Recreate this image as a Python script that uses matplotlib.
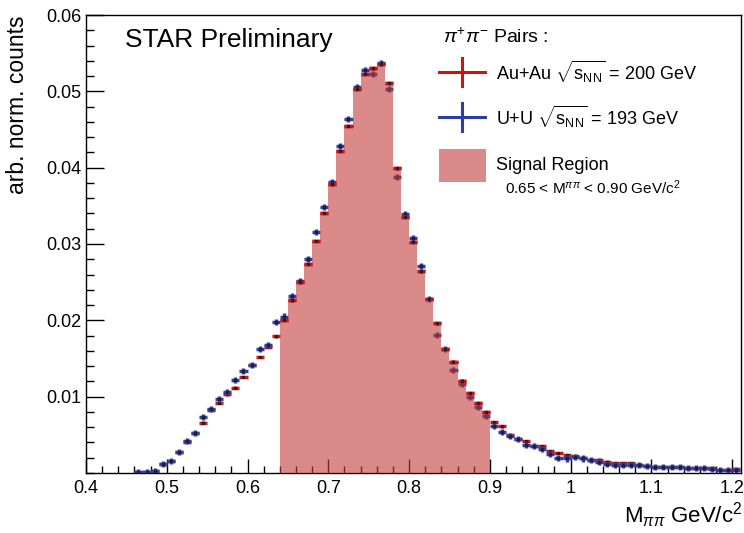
import numpy as np
import matplotlib
matplotlib.use("Agg")
import matplotlib.pyplot as plt
from matplotlib.ticker import MultipleLocator, FixedLocator, FuncFormatter
from matplotlib.lines import Line2D
from matplotlib.patches import Rectangle

plt.rcParams['font.family'] = ['Liberation Sans', 'DejaVu Sans']
plt.rcParams['mathtext.fontset'] = 'custom'
plt.rcParams['mathtext.rm'] = 'Liberation Sans'
plt.rcParams['mathtext.it'] = 'Liberation Sans:italic'
plt.rcParams['mathtext.sf'] = 'Liberation Sans'

# bin edges 0.46 .. 1.21, width 0.01
edges = np.round(np.arange(0.46, 1.2151, 0.01), 3)
centers = (edges[:-1] + edges[1:]) / 2

auau = [0.0001, 0.0001, 0.0002, 0.0012, 0.0016, 0.0027, 0.0041, 0.0052, 0.0066, 0.0083,
        0.0092, 0.0103, 0.0112, 0.0126, 0.0141, 0.0152, 0.0165, 0.0179, 0.0200, 0.0226,
        0.0250, 0.0274, 0.0304, 0.0341, 0.0378, 0.0422, 0.0455, 0.0503, 0.0523, 0.0530,
        0.0536, 0.0511, 0.0399, 0.0336, 0.0303, 0.0264, 0.0228, 0.0196, 0.0162, 0.0146,
        0.0121, 0.0105, 0.0092, 0.0080, 0.0067, 0.0061, 0.0050, 0.0044, 0.0042, 0.0035,
        0.0035, 0.0029, 0.0026, 0.0023, 0.0022, 0.0019, 0.0017, 0.0017, 0.0015, 0.0013,
        0.0013, 0.0013, 0.0011, 0.0009, 0.0008, 0.0008, 0.0008, 0.0008, 0.0006, 0.0006,
        0.0006, 0.0006, 0.0004, 0.0004, 0.0005]
uu = [0.0001, 0.0001, 0.0002, 0.0012, 0.0016, 0.0027, 0.0042, 0.0052, 0.0073, 0.0084,
      0.0097, 0.0106, 0.0122, 0.0134, 0.0141, 0.0163, 0.0168, 0.0198, 0.0205, 0.0232,
      0.0252, 0.0280, 0.0316, 0.0348, 0.0381, 0.0428, 0.0464, 0.0506, 0.0528, 0.0523,
      0.0537, 0.0503, 0.0388, 0.0339, 0.0308, 0.0271, 0.0228, 0.0181, 0.0162, 0.0135,
      0.0117, 0.0100, 0.0087, 0.0075, 0.0061, 0.0054, 0.0049, 0.0044, 0.0037, 0.0035,
      0.0032, 0.0025, 0.0020, 0.0019, 0.0021, 0.0019, 0.0017, 0.0015, 0.0012, 0.0011,
      0.0011, 0.0011, 0.0011, 0.0009, 0.0008, 0.0008, 0.0008, 0.0008, 0.0006, 0.0006,
      0.0006, 0.0005, 0.0004, 0.0004, 0.0004]
auau = np.array(auau); uu = np.array(uu)
SIG_LO, SIG_HI = 0.64, 0.90

RED = '#cc1414'; BLUE = '#2e3da6'
FILL = '#c43c3c'; FILL_LEG = '#db8a8a'

W, H = 744, 533
fig = plt.figure(figsize=(W / 100, H / 100), dpi=100)
ax = fig.add_axes([86 / W, 60 / H, 655 / W, 458 / H])

ekw = dict(fmt='s', ms=1.3, mfc='#202020', mec='#202020', elinewidth=2.5, capsize=0)
ax.errorbar(centers, auau, xerr=0.005, yerr=0.00015, ecolor=RED, zorder=2, **ekw)
ax.errorbar(centers, uu, xerr=0.005, yerr=0.0004, ecolor=BLUE, zorder=3, **ekw)

sig = (centers > SIG_LO) & (centers < SIG_HI)
sig_edges = edges[(edges >= SIG_LO - 1e-9) & (edges <= SIG_HI + 1e-9)]
ax.stairs(auau[sig], sig_edges, fill=True, color=FILL, alpha=0.6, lw=0, zorder=4)
ax.errorbar(centers[sig], auau[sig], xerr=0.005, yerr=0.00015, ecolor=RED, zorder=5, **ekw)

ax.set_xlim(0.4, 1.211)
ax.set_ylim(0, 0.06)
ax.xaxis.set_major_locator(FixedLocator([0.4, 0.5, 0.6, 0.7, 0.8, 0.9, 1.0, 1.1, 1.2]))
ax.xaxis.set_minor_locator(MultipleLocator(0.02))
ax.xaxis.set_major_formatter(FuncFormatter(lambda v, p: f"{v:g}"))
ax.yaxis.set_major_locator(FixedLocator([0.01, 0.02, 0.03, 0.04, 0.05, 0.06]))
ax.yaxis.set_minor_locator(MultipleLocator(0.002))
ax.yaxis.set_major_formatter(FuncFormatter(lambda v, p: f"{v:.2f}"))
ax.tick_params(axis='both', which='both', direction='in', top=False, right=False,
               labelsize=13, width=1)
ax.tick_params(axis='x', which='major', length=10, pad=5)
ax.tick_params(axis='x', which='minor', length=5)
ax.tick_params(axis='y', which='major', length=13, pad=3)
ax.tick_params(axis='y', which='minor', length=6)
for s in ax.spines.values():
    s.set_linewidth(1)

def fx(x): return x / W
def fy(y): return 1 - y / H

fig.text(fx(742), fy(515), r'M$_{\pi\pi}$ GeV/c$^{2}$', ha='right', va='center', fontsize=16)
fig.text(fx(18), fy(15), 'arb. norm. counts', rotation=90, ha='center', va='top', fontsize=16.5)
fig.text(fx(125), fy(47), 'STAR Preliminary', ha='left', va='baseline', fontsize=19)

# legend
fig.text(fx(443), fy(37), r'$\pi^{+}\pi^{-}$ Pairs :', ha='left', va='center', fontsize=14)
for yy, col, lab in [(72, RED, r'Au+Au $\sqrt{\mathrm{s}_{\rm NN}}$ = 200 GeV'),
                     (117, BLUE, r'U+U $\sqrt{\mathrm{s}_{\rm NN}}$ = 193 GeV')]:
    fig.add_artist(Line2D([fx(439), fx(485)], [fy(yy), fy(yy)], color=col, lw=2.2))
    fig.add_artist(Line2D([fx(462), fx(462)], [fy(yy - 14), fy(yy + 14)], color=col, lw=2.2))
    fig.text(fx(496), fy(yy), lab, ha='left', va='center', fontsize=13)
fig.add_artist(Rectangle((fx(439), fy(182)), fx(47), 33 / H, color=FILL_LEG, lw=0))
fig.text(fx(496), fy(165), 'Signal Region', ha='left', va='center', fontsize=13)
fig.text(fx(505), fy(188), r'0.65 < M$^{\pi\pi}$ < 0.90 GeV/c$^{2}$', ha='left', va='center', fontsize=11)

fig.savefig('out.png', dpi=100)
